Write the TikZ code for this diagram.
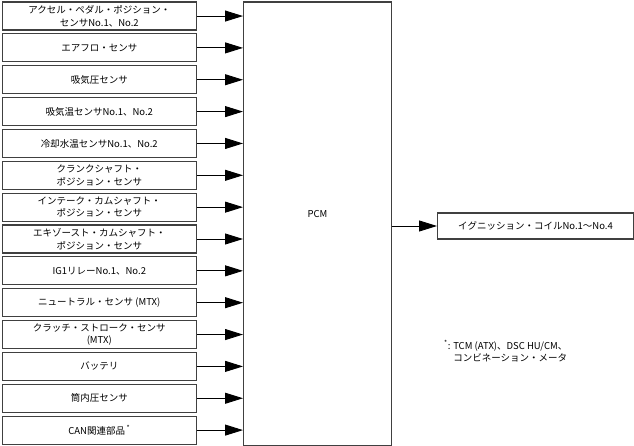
\documentclass[tikz,border=0pt]{standalone}
\usepackage{fontspec}
\setmainfont{Noto Sans CJK JP}
\usetikzlibrary{arrows.meta,positioning}
\definecolor{pcLine}{HTML}{404040}

\begin{document}
\begin{tikzpicture}[
  x=1pt, y=-1pt,
  node distance=2.75pt,
  font=\fontsize{9.5}{12.5}\selectfont,
  sensor/.style={draw=pcLine, line width=1.1pt, fill=white, align=center, inner sep=0pt, minimum width=194.5pt, minimum height=28pt},
  unit/.style={draw=pcLine, line width=1.1pt, fill=white, inner sep=0pt},
  arr/.style={-{Triangle[length=18pt, width=11pt]}, line width=0.9pt}
]
  \useasboundingbox (0,0) rectangle (634,446);
  \node[sensor, anchor=north west] (accel) at (1.5,1.5) {アクセル・ペダル・ポジション・\\センサNo.1、No.2};
  \node[sensor, below=of accel] (airflow) {エアフロ・センサ};
  \node[sensor, below=of airflow] (map) {吸気圧センサ};
  \node[sensor, below=of map] (iat) {吸気温センサNo.1、No.2};
  \node[sensor, below=of iat] (ect) {冷却水温センサNo.1、No.2};
  \node[sensor, below=of ect] (ckp) {クランクシャフト・\\ポジション・センサ};
  \node[sensor, below=of ckp] (cmpin) {インテーク・カムシャフト・\\ポジション・センサ};
  \node[sensor, below=of cmpin] (cmpex) {エキゾースト・カムシャフト・\\ポジション・センサ};
  \node[sensor, below=of cmpex] (ig1) {IG1リレーNo.1、No.2};
  \node[sensor, below=of ig1] (neutral) {ニュートラル・センサ (MTX)};
  \node[sensor, below=of neutral] (clutch) {クラッチ・ストローク・センサ\\(MTX)};
  \node[sensor, below=of clutch] (battery) {バッテリ};
  \node[sensor, below=of battery] (cylp) {筒内圧センサ};
  \node[sensor, below=of cylp] (can) {CAN関連部品\,\textsuperscript{*}};

  \node[unit, anchor=north west, minimum width=148pt, minimum height=443pt, label={[yshift=9.5pt]center:PCM}] (pcm) at (243,1.5) {};
  \node[unit, anchor=west, minimum width=196pt, minimum height=26pt] (coil) at (437,226) {イグニッション・コイルNo.1〜No.4};

  \node[anchor=north west, align=left, inner sep=0pt] (note) at (444,340) {\textsuperscript{*}: TCM (ATX)、DSC HU/CM、\\\phantom{\textsuperscript{*}: }コンビネーション・メータ};

  \foreach \s in {accel,airflow,map,iat,ect,ckp,cmpin,cmpex,ig1,neutral,clutch,battery,cylp,can}
    \draw[arr] (\s.east) -- (\s.east -| pcm.west);
  \draw[arr] (pcm.east |- coil.west) -- (coil.west);
\end{tikzpicture}
\end{document}
